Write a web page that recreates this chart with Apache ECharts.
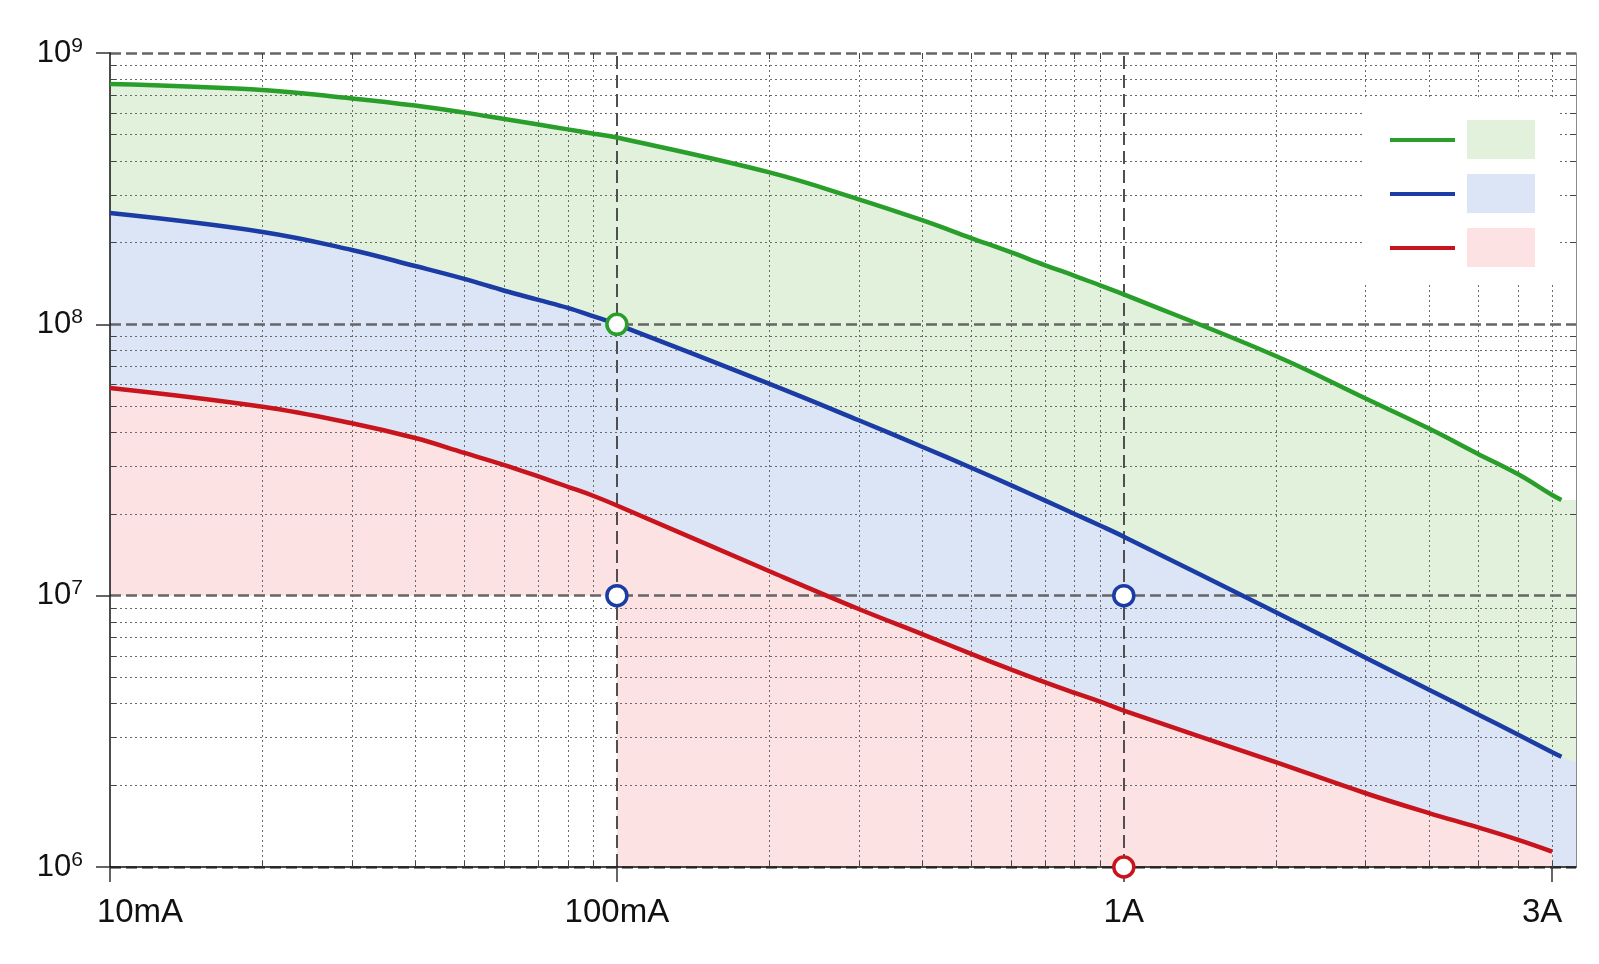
<!DOCTYPE html>
<html>
<head>
<meta charset="utf-8">
<script src="https://cdn.jsdelivr.net/npm/echarts@6/dist/echarts.min.js"></script>
<style>
  html, body { margin: 0; padding: 0; background: #fff; }
  #chart { width: 1599px; height: 964px; }
</style>
</head>
<body>
<div id="chart"></div>
<script>
// x positions of the curves (grid positions of the reference axis)
var current = [0.01, 0.02, 0.03, 0.04, 0.05, 0.06, 0.07, 0.08, 0.09, 0.1, 0.2, 0.3, 0.4, 0.5, 0.6, 0.7, 0.8, 0.9, 1, 2, 3, 4, 5, 6, 7, 7.3];
var greenLife = [7.69e8, 7.31e8, 6.80e8, 6.40e8, 6.03e8, 5.71e8, 5.45e8, 5.23e8, 5.04e8, 4.88e8, 3.63e8, 2.89e8, 2.42e8, 2.08e8, 1.84e8, 1.65e8, 1.51e8, 1.39e8, 1.29e8, 7.63e7, 5.33e7, 4.13e7, 3.33e7, 2.80e7, 2.35e7, 2.25e7];
var blueLife = [2.57e8, 2.19e8, 1.88e8, 1.64e8, 1.47e8, 1.33e8, 1.23e8, 1.15e8, 1.07e8, 1.00e8, 6.03e7, 4.43e7, 3.54e7, 2.96e7, 2.55e7, 2.24e7, 2.00e7, 1.81e7, 1.65e7, 8.67e6, 5.91e6, 4.50e6, 3.65e6, 3.07e6, 2.65e6, 2.55e6];
var redLife = [5.83e7, 4.97e7, 4.32e7, 3.81e7, 3.36e7, 3.03e7, 2.75e7, 2.52e7, 2.33e7, 2.15e7, 1.23e7, 8.93e6, 7.22e6, 6.10e6, 5.34e6, 4.79e6, 4.38e6, 4.06e6, 3.77e6, 2.43e6, 1.87e6, 1.58e6, 1.40e6, 1.26e6, 1.14e6, null];

// shaded zones run on to the right edge of the plot
var xMax = 7.8;
var greenEdge = 2.25e7;
var blueEdge = 2.44e6;

// rated points (circles)
var greenSpec = [[0.1, 1e8]];
var blueSpec = [[0.1, 1e7], [1, 1e7]];
var redSpec = [[1, 1e6]];

// axis ticks and grid
var xLabelAt = [0.01, 0.1, 1, 7];
var xLabelText = ['10mA', '100mA', '1A', '3A'];
var xMajor = [0.1, 1];
var yMajor = [1e6, 1e7, 1e8, 1e9];
var xMinor = [0.02, 0.03, 0.04, 0.05, 0.06, 0.07, 0.08, 0.09, 0.2, 0.3, 0.4, 0.5, 0.6, 0.7, 0.8, 0.9, 2, 3, 4, 5, 6, 7];
var yMinor = [2e6, 3e6, 4e6, 5e6, 6e6, 7e6, 8e6, 9e6, 2e7, 3e7, 4e7, 5e7, 6e7, 7e7, 8e7, 9e7, 2e8, 3e8, 4e8, 5e8, 6e8, 7e8, 8e8, 9e8];

var font = "'Liberation Sans', Arial, Helvetica, sans-serif";
var colors = {
  green: '#2a9e2a', blue: '#1a3ca4', red: '#c8141c',
  greenFill: '#e2f1dc', blueFill: '#dce5f5', redFill: '#fce2e2'
};

function pairs(xs, ys) {
  var out = [];
  for (var i = 0; i < xs.length; i++) {
    if (ys[i] != null) out.push([xs[i], ys[i]]);
  }
  return out;
}

var minorStyle = { color: '#6a6a6a', width: 1, type: [2, 3] };
var majorH = { color: '#666', width: 2.5, type: [11, 5] };
var majorV = { color: '#4f4f4f', width: 2, type: [13, 6] };

var gridLines = [];
xMinor.forEach(function(v) { gridLines.push({ xAxis: v, lineStyle: minorStyle }); });
yMinor.forEach(function(v) { gridLines.push({ yAxis: v, lineStyle: minorStyle }); });
xMajor.forEach(function(v) { gridLines.push({ xAxis: v, lineStyle: majorV }); });
yMajor.forEach(function(v) { gridLines.push({ yAxis: v, lineStyle: majorH }); });

function minorAxis(pos, dim) {
  var ax = {
    type: 'log', logBase: 10, position: pos, z: 6,
    axisLine: { show: false, onZero: false },
    axisLabel: { show: false },
    axisTick: { inside: true, length: 6, customValues: dim === 'x' ? xMinor : yMinor, lineStyle: { color: '#444', width: 1 } },
    splitLine: { show: false }
  };
  if (dim === 'x') { ax.min = 0.01; ax.max = xMax; } else { ax.min = 1e6; ax.max = 1e9; }
  return ax;
}

function areaSeries(name, data, fill, z) {
  return {
    name: name, type: 'line', data: data, xAxisIndex: 0, yAxisIndex: 0,
    symbol: 'none', smooth: 0.4, silent: true, z: z,
    lineStyle: { width: 0, color: fill },
    itemStyle: { color: fill },
    areaStyle: { color: fill, opacity: 1, origin: 'start' }
  };
}

function curveSeries(name, data, color) {
  return {
    name: name, type: 'line', data: data, xAxisIndex: 0, yAxisIndex: 0,
    symbol: 'none', smooth: 0.4, silent: true, z: 7,
    lineStyle: { width: 4.5, color: color },
    itemStyle: { color: color }
  };
}

function specSeries(name, data, color) {
  return {
    name: name, type: 'scatter', data: data, xAxisIndex: 0, yAxisIndex: 0,
    symbol: 'circle', symbolSize: 20, clip: false, silent: true, z: 8,
    itemStyle: { color: '#fff', borderColor: color, borderWidth: 3.5, opacity: 1 }
  };
}

var option = {
  animation: false,
  backgroundColor: '#fff',
  textStyle: { fontFamily: font },
  grid: { left: 110, right: 23, top: 53, bottom: 97, containLabel: false, outerBoundsMode: 'none' },
  legend: [{
    data: ['green', 'blue', 'red'],
    orient: 'vertical', left: 1362, top: 100,
    padding: [38, 100, 32, 28], backgroundColor: '#fff',
    icon: 'rect', itemWidth: 65, itemHeight: 4, itemGap: 50,
    itemStyle: { borderWidth: 0 },
    formatter: function() { return ''; },
    textStyle: { fontSize: 1, lineHeight: 1 },
    selectedMode: false, z: 9
  }, {
    data: ['green zone', 'blue zone', 'red zone'],
    orient: 'vertical', left: 1467, top: 120, padding: 0,
    icon: 'rect', itemWidth: 68, itemHeight: 39, itemGap: 15,
    itemStyle: { borderWidth: 0 },
    formatter: function() { return ''; },
    textStyle: { fontSize: 1, lineHeight: 1 },
    selectedMode: false, z: 10
  }],
  xAxis: [{
    type: 'log', logBase: 10, min: 0.01, max: xMax, position: 'bottom', z: 6,
    axisLine: { onZero: false, lineStyle: { color: '#111', width: 1.5 } },
    axisTick: { customValues: xLabelAt, length: 15, lineStyle: { color: '#333', width: 1.5 } },
    axisLabel: {
      customValues: xLabelAt, margin: 29, color: '#111',
      formatter: function(v) {
        for (var i = 0; i < xLabelAt.length; i++) {
          if (Math.abs(v - xLabelAt[i]) < xLabelAt[i] * 1e-6) {
            var tag = i === 0 ? 'l' : (i === xLabelAt.length - 1 ? 'r' : 'c');
            return '{' + tag + '|' + xLabelText[i] + '}';
          }
        }
        return '';
      },
      rich: {
        l: { fontSize: 33, fontFamily: font, color: '#111', lineHeight: 33, padding: [0, 0, 0, 60] },
        c: { fontSize: 33, fontFamily: font, color: '#111', lineHeight: 33 },
        r: { fontSize: 33, fontFamily: font, color: '#111', lineHeight: 33, padding: [0, 20, 0, 0] }
      }
    },
    splitLine: { show: false }
  }, minorAxis('bottom', 'x'), minorAxis('top', 'x')],
  yAxis: [{
    type: 'log', logBase: 10, min: 1e6, max: 1e9, position: 'left', z: 6,
    axisLine: { onZero: false, lineStyle: { color: '#111', width: 1.5 } },
    axisTick: { length: 14, lineStyle: { color: '#333', width: 1.5 } },
    axisLabel: {
      margin: 27,
      formatter: function(v) {
        return '{b|10}{s|' + Math.round(Math.log10(v)) + '}';
      },
      rich: {
        b: { fontSize: 31, fontFamily: font, color: '#111', lineHeight: 31, verticalAlign: 'bottom' },
        s: { fontSize: 21, fontFamily: font, color: '#111', lineHeight: 21, verticalAlign: 'bottom', padding: [0, 0, 12, 0] }
      }
    },
    splitLine: { show: false }
  }, minorAxis('left', 'y'), (function() {
    var ax = minorAxis('right', 'y');
    ax.axisLine = { show: true, onZero: false, lineStyle: { color: '#8a8a8a', width: 1 } };
    return ax;
  })()],
  series: [
    areaSeries('green zone', pairs(current, greenLife).concat([[xMax, greenEdge]]), colors.greenFill, 1),
    areaSeries('blue zone', pairs(current, blueLife).concat([[xMax, blueEdge]]), colors.blueFill, 2),
    areaSeries('red zone', pairs(current, redLife), colors.redFill, 3),
    {
      name: 'grid', type: 'line', data: [], xAxisIndex: 0, yAxisIndex: 0, silent: true,
      markArea: {
        silent: true, z: 4,
        itemStyle: { color: '#fff', opacity: 1 },
        data: [[{ xAxis: 0.01, yAxis: 1e6 }, { xAxis: 0.1, yAxis: 1e7 }]]
      },
      markLine: {
        silent: true, z: 5, symbol: 'none', animation: false,
        label: { show: false },
        data: gridLines
      }
    },
    curveSeries('green', pairs(current, greenLife), colors.green),
    curveSeries('blue', pairs(current, blueLife), colors.blue),
    curveSeries('red', pairs(current, redLife), colors.red),
    specSeries('green spec', greenSpec, colors.green),
    specSeries('blue spec', blueSpec, colors.blue),
    specSeries('red spec', redSpec, colors.red)
  ]
};

var chart = echarts.init(document.getElementById('chart'), null, { renderer: 'canvas' });
chart.setOption(option);
</script>
</body>
</html>
